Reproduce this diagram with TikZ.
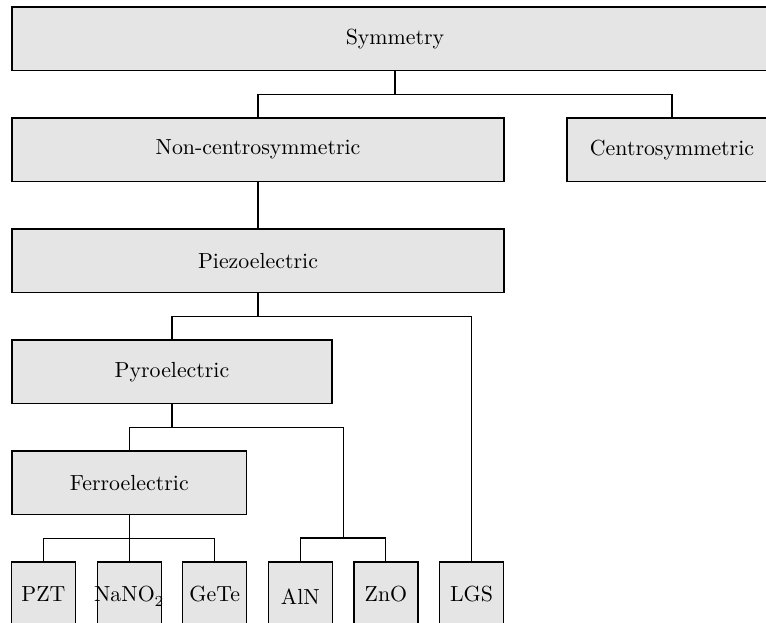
\documentclass[tikz,border=0pt]{standalone}
\begin{document}
\begin{tikzpicture}[
    x=0.4577pt, y=-0.4577pt,
    box/.style={draw=black, line width=0.6pt, fill=gray!20, rectangle,
                inner sep=0pt, outer sep=0pt, minimum height={63.5*0.4577pt}},
    leaf/.style={box, minimum width={64*0.4577pt}, text height=6.83pt, text depth=0pt},
    link/.style={line width=0.5pt},
    elbow/.style={to path={(\tikztostart) -- ++(0,23.75) -| (\tikztotarget)}}
  ]
  % page frame
  \clip (0,0) rectangle (766,622);

  % classification levels
  \node[box, minimum width={766*0.4577pt}] (sym)   at (395,38.75)  {Symmetry};
  \node[box, minimum width={492*0.4577pt}] (ncs)   at (258,149.75) {Non-centrosymmetric};
  \node[box, minimum width={210*0.4577pt}] (cs)    at (672,149.75) {Centrosymmetric};
  \node[box, minimum width={492*0.4577pt}] (piezo) at (258,260.75) {Piezoelectric};
  \node[box, minimum width={320*0.4577pt}] (pyro)  at (172,371.75) {Pyroelectric};
  \node[box, minimum width={234.6*0.4577pt}] (ferro) at (129.3,482.75) {Ferroelectric};

  % example materials (fixed-size boxes; long labels may overhang)
  \node[leaf] (pzt)   at (43.5,593.75)  {PZT};
  \node[leaf] (nano)  at (129.3,593.75) {\makebox[0pt]{NaNO$_{\raisebox{-1pt}{$\scriptstyle 2$}}$}};
  \node[leaf] (gete)  at (214.7,593.75) {GeTe};
  \node[leaf, text height=9.6pt] (aln) at (300.3,593.75) {AlN};
  \node[leaf] (zno)   at (385.9,593.75) {ZnO};
  \node[leaf] (lgs)   at (471.5,593.75) {LGS};

  % branch point for the polar, non-ferroelectric materials
  \coordinate (polar) at (343.1,538);

  % tree connectors
  \draw[link] (sym.south) to[elbow] (ncs.north);
  \draw[link] (sym.south) to[elbow] (cs.north);
  \draw[link] (ncs.south) -- (piezo.north);
  \draw[link] (piezo.south) to[elbow] (pyro.north);
  \draw[link] (piezo.south) to[elbow] (lgs.north);
  \draw[link] (pyro.south) to[elbow] (ferro.north);
  \draw[link] (pyro.south) to[elbow] (polar);
  \draw[link] (ferro.south) to[elbow] (pzt.north);
  \draw[link] (ferro.south) to[elbow] (nano.north);
  \draw[link] (ferro.south) to[elbow] (gete.north);
  \draw[link] (polar) -| (aln.north);
  \draw[link] (polar) -| (zno.north);
\end{tikzpicture}
\end{document}
